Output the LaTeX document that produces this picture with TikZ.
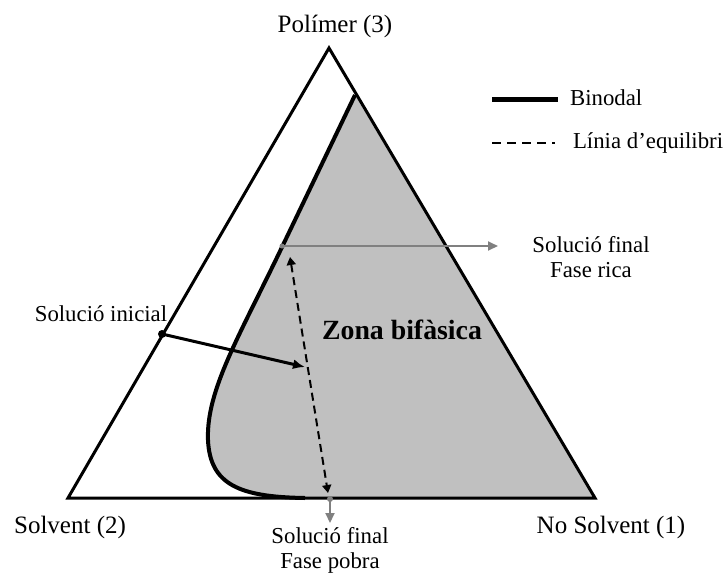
\documentclass[tikz,border=0pt]{standalone}
\usepackage{fontspec}
\setmainfont{Liberation Serif}
\usetikzlibrary{arrows.meta}
\definecolor{zonegray}{RGB}{192,192,192}
\definecolor{arrowgray}{RGB}{128,128,128}
\begin{document}
\begin{tikzpicture}[x=0.5pt,y=-0.5pt,
  bigtxt/.style={font=\fontsize{12.5}{14}\selectfont},
  smalltxt/.style={font=\fontsize{11.4}{12.5}\selectfont},
  thin arrow/.style={line width=1pt,-{Triangle[length=5pt,width=4.5pt]}}]
\useasboundingbox (0,0) rectangle (725,575);
\def\ternary{(329,48) -- (68,498) -- (595,498) -- cycle}
\def\binodal{(355,95) -- (283,245) .. controls (240,335) and (206,390) .. (208,440) .. controls (210,485) and (240,497) .. (305,498)}

% two-phase zone
\fill[zonegray] \binodal -- (595,498) -- cycle;

\draw[line width=1.5pt] \ternary;
\draw[line width=2pt] \binodal;

\node[bigtxt] (polimer) at (335,26) {Polímer (3)};
\node[bigtxt] (solvent) at (70,527) {Solvent (2)};
\node[bigtxt] (nosolvent) at (611,527) {No Solvent (1)};
\node[font=\bfseries\fontsize{13.9}{16}\selectfont] (zona) at (402,330) {Zona bifàsica};

% initial solution
\coordinate (ini) at (162,334);
\coordinate (iniend) at (305,367);
\fill (ini) circle (4);
\draw[line width=1.5pt,-{Latex[length=6pt,width=5pt]}] (ini) -- (iniend);
\node[smalltxt] (inicial) at (101,314) {Solució inicial};

% equilibrium line
\coordinate (eqtop) at (290,257);
\coordinate (eqbot) at (328,493);
\draw[line width=1pt,dash pattern=on 4pt off 2.5pt,
  {Triangle[length=4pt,width=4.5pt]}-{Triangle[length=4pt,width=4.5pt]}] (eqtop) -- (eqbot);

% final solutions
\coordinate (rica0) at (282,246);
\coordinate (rica1) at (498,246);
\fill[arrowgray] (rica0) circle (2.5);
\draw[arrowgray,thin arrow] (rica0) -- (rica1);
\node[smalltxt,align=center] (rica) at (591,257) {Solució final\\Fase rica};

\coordinate (pobra0) at (330,499);
\coordinate (pobra1) at (330,523);
\fill[arrowgray] (pobra0) circle (3);
\draw[arrowgray,thin arrow] (pobra0) -- (pobra1);
\node[smalltxt,align=center] (pobra) at (330,550) {Solució final\\Fase pobra};

% legend
\coordinate (bin0) at (492,99);
\coordinate (bin1) at (558,99);
\draw[line width=2.5pt] (bin0) -- (bin1);
\node[smalltxt,anchor=west] (binodal) at (563,98) {Binodal};
\coordinate (eq0) at (492,143);
\coordinate (eq1) at (555,143);
\draw[line width=1pt,dash pattern=on 4.5pt off 3pt] (eq0) -- (eq1);
\node[smalltxt,anchor=west] (equilibri) at (566,143) {Línia d’equilibri};
\end{tikzpicture}
\end{document}
